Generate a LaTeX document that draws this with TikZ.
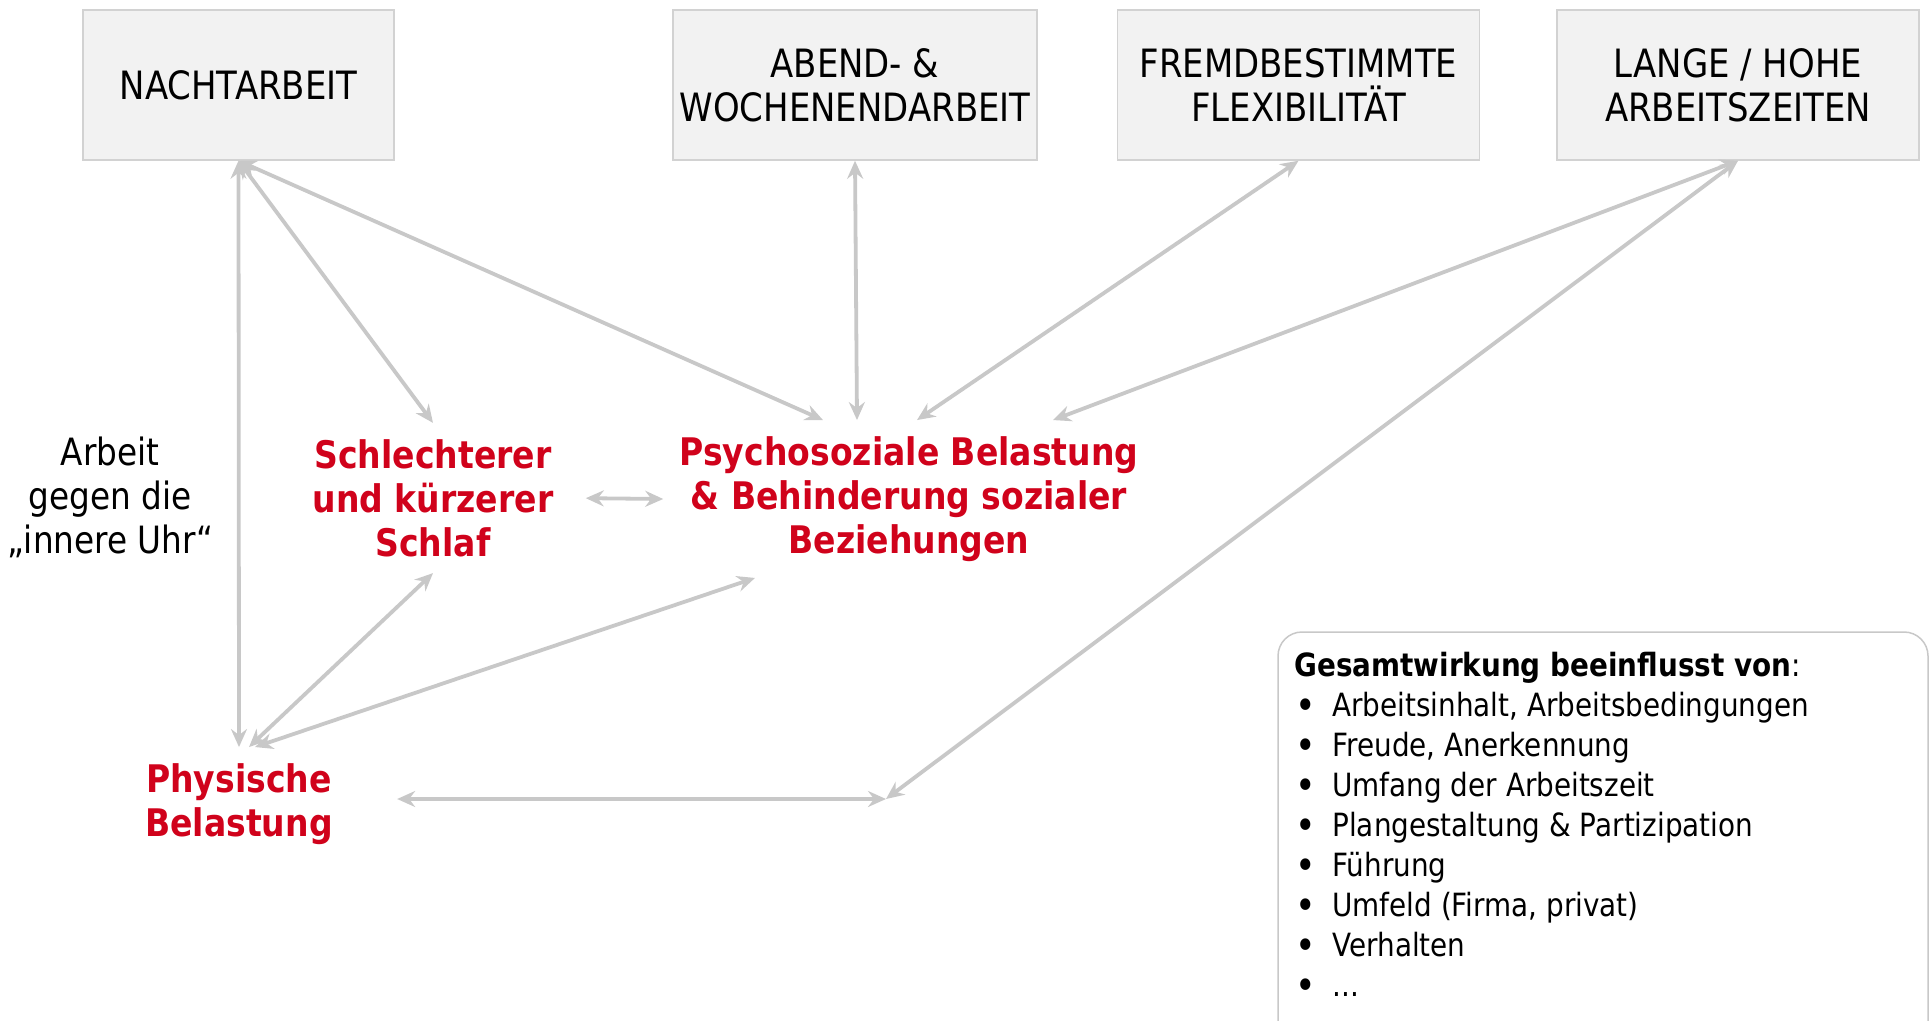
\documentclass[tikz,border=0pt]{standalone}
\usepackage{fontspec}
\setmainfont{DejaVu Sans}[FakeStretch=0.87]
\usetikzlibrary{arrows.meta}

\definecolor{boxfill}{RGB}{242,242,242}
\definecolor{boxline}{RGB}{210,210,210}
\definecolor{linkgray}{RGB}{200,200,200}
\definecolor{effred}{RGB}{208,2,27}

\newcommand{\listdot}{\makebox[19pt][l]{\hspace{0.5pt}\raisebox{-1.2pt}{\scalebox{1.25}{\textbullet}}}}

\begin{document}
\begin{tikzpicture}[x=0.5pt,y=0.5pt,yscale=-1,xscale=1,
  topbox/.style={draw=boxline, fill=boxfill, line width=0.75pt, minimum height=75pt, align=center, font=\fontsize{19.5}{22}\selectfont},
  effect/.style={text=effred, align=center, inner sep=8pt, font=\fontsize{19}{22}\selectfont\bfseries},
  note/.style={align=center, font=\fontsize{18.8}{22}\selectfont},
  link/.style={draw=linkgray, line width=1.9pt, >={Stealth[length=9pt,width=8pt,inset=3pt]}, <->}
]
\useasboundingbox (0,0) rectangle (1931,1021);

% working time factors
\node[topbox, minimum width=155.5pt] (nacht) at (238.5,85) {NACHTARBEIT};
\node[topbox, minimum width=181pt] (abend) at (855,85) {ABEND- \&\\WOCHENENDARBEIT};
\node[topbox, minimum width=181pt] (fremd) at (1298.5,85) {FREMDBESTIMMTE\\FLEXIBILITÄT};
\node[topbox, minimum width=181pt] (lange) at (1738,85) {LANGE / HOHE\\ARBEITSZEITEN};

% effects
\node[effect] (schlaf) at (433,498) {Schlechterer\\und kürzerer\\Schlaf};
\node[effect] (psy) at (909,499) {Psychosoziale Belastung\\\& Behinderung sozialer\\Beziehungen};
\node[effect] (phys) at (239,804) {Physische\\Belastung};
\node[note] (uhr) at (110,497) {Arbeit\\gegen die\\„innere Uhr“};
\coordinate (mix) at (886,799);

% links
\draw[link] (nacht.south) -- (phys.north);
\draw[link] (nacht.south) -- (schlaf.north);
\draw[link] (nacht.south) -- ([xshift=-43pt]psy.north);
\draw[link] (abend.south) -- ([xshift=-26pt]psy.north);
\draw[link] (fremd.south) -- ([xshift=4pt]psy.north);
\draw[link] (lange.south) -- ([xshift=72pt]psy.north);
\draw[link] (lange.south) -- (mix);
\draw[link] ([xshift=24pt]phys.east |- mix) -- (mix);
\draw[link, shorten <=8pt] (schlaf.east) -- (psy.west);
\draw[link] (schlaf.south) -- ([xshift=5pt]phys.north);
\draw[link] ([xshift=8pt]phys.north) -- ([xshift=-77pt]psy.south);

% overall influence
\draw[draw=linkgray, line width=0.75pt, rounded corners=12pt] (1278,632) rectangle (1928,1060);
\node[anchor=north west, inner sep=0pt, align=left, font=\fontsize{16}{20}\selectfont] (info) at (1294,652) {%
  \textbf{Gesamtwirkung beeinflusst von}:\\
  \listdot Arbeitsinhalt, Arbeitsbedingungen\\
  \listdot Freude, Anerkennung\\
  \listdot Umfang der Arbeitszeit\\
  \listdot Plangestaltung \& Partizipation\\
  \listdot Führung\\
  \listdot Umfeld (Firma, privat)\\
  \listdot Verhalten\\
  \listdot ...};

\end{tikzpicture}
\end{document}
